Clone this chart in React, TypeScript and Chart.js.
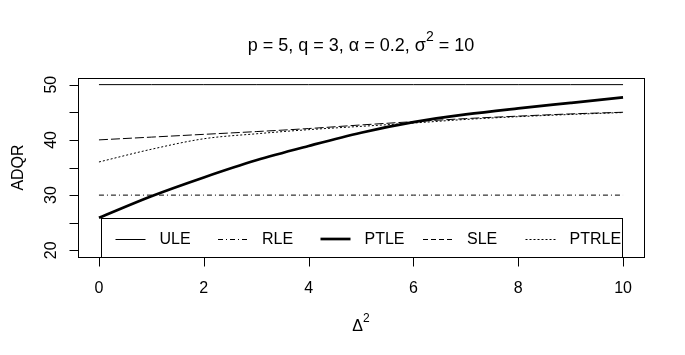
import React, { useEffect, useRef } from "react";
import { Chart, registerables } from "chart.js";

Chart.register(...registerables);

// ---- data ----
const deltas = [0, 1, 2, 3, 4, 5, 6, 7, 8, 9, 10];
const ule = [50, 50, 50, 50, 50, 50, 50, 50, 50, 50, 50];
const rle = [30, 30, 30, 30, 30, 30, 30, 30, 30, 30, 30];
const ptle = [25.9, 29.8, 33.2, 36.3, 38.9, 41.3, 43.2, 44.6, 45.7, 46.7, 47.7];
const sle = [40.0, 40.5, 41.0, 41.5, 42.05, 42.7, 43.3, 43.85, 44.3, 44.7, 45.0];
const ptrle = [36.0, 38.3, 40.2, 41.1, 41.85, 42.45, 43.05, 43.7, 44.2, 44.6, 44.95];

const xTicks = [0, 2, 4, 6, 8, 10];
const yTicks = [20, 25, 30, 35, 40, 45, 50];
const yLabels = [20, 30, 40, 50];
const seriesNames = ["ULE", "RLE", "PTLE", "SLE", "PTRLE"];

const FONT = '"Liberation Sans", Arial, sans-serif';
const INK = "#000";

type LegendStyle = { width: number; dash: number[] };
const legendStyles: LegendStyle[] = [
  { width: 1, dash: [] },
  { width: 1, dash: [5, 3, 1, 3] },
  { width: 2.7, dash: [] },
  { width: 1, dash: [5, 3] },
  { width: 1, dash: [2, 2] },
];

const toXY = (ys: number[]) => deltas.map((x, i) => ({ x, y: ys[i] }));

const rPlugin = {
  id: "rStyle",
  afterDatasetsDraw(chart: any) {
    const ctx: CanvasRenderingContext2D = chart.ctx;
    const { left, top, right, bottom } = chart.chartArea;
    const xs = chart.scales.x;
    const ys = chart.scales.y;
    ctx.save();
    ctx.strokeStyle = INK;
    ctx.fillStyle = INK;
    ctx.lineWidth = 1;
    ctx.setLineDash([]);

    const L = Math.round(left) + 0.5;
    const T = Math.round(top) + 0.5;
    const R = Math.round(right) + 0.5;
    const B = Math.round(bottom) + 0.5;

    // legend (bottom, centred, drawn over the lines)
    const legW = 521;
    const legH = 39;
    const cx = (left + right) / 2;
    const legL = Math.round(cx - legW / 2) + 0.5;
    const legT = Math.round(bottom - legH) + 0.5;
    ctx.fillStyle = "#fff";
    ctx.fillRect(legL, legT, legW, legH);
    ctx.fillStyle = INK;
    ctx.strokeRect(legL, legT, legW, legH);
    const ly = Math.round(legT + legH / 2 + 1);
    ctx.font = `16px ${FONT}`;
    ctx.textBaseline = "middle";
    ctx.textAlign = "left";
    seriesNames.forEach((name, i) => {
      const sx = legL + 14 + i * 102.5;
      const st = legendStyles[i];
      ctx.save();
      ctx.lineWidth = st.width;
      ctx.setLineDash(st.dash);
      ctx.beginPath();
      const yy = st.width === 1 ? ly + 0.5 : ly;
      ctx.moveTo(sx, yy);
      ctx.lineTo(sx + 30, yy);
      ctx.stroke();
      ctx.restore();
      ctx.fillText(name, sx + 44, ly + 1);
    });

    // plot box
    ctx.setLineDash([]);
    ctx.lineWidth = 1;
    ctx.strokeRect(L, T, R - L, B - T);

    // x axis
    const axY = Math.round(bottom) + 0.5;
    ctx.beginPath();
    xTicks.forEach((v) => {
      const px = Math.round(xs.getPixelForValue(v)) + 0.5;
      ctx.moveTo(px, axY);
      ctx.lineTo(px, axY + 9);
    });
    ctx.stroke();
    ctx.font = `16px ${FONT}`;
    ctx.textAlign = "center";
    ctx.textBaseline = "alphabetic";
    xTicks.forEach((v) => {
      const px = xs.getPixelForValue(v);
      ctx.fillText(String(v), px, 293);
    });

    // y axis
    const axX = Math.round(left) + 0.5;
    ctx.beginPath();
    yTicks.forEach((v) => {
      const py = Math.round(ys.getPixelForValue(v)) + 0.5;
      ctx.moveTo(axX, py);
      ctx.lineTo(axX - 9, py);
    });
    ctx.stroke();
    yLabels.forEach((v) => {
      const py = ys.getPixelForValue(v);
      ctx.save();
      ctx.translate(56, py);
      ctx.rotate(-Math.PI / 2);
      ctx.textAlign = "center";
      ctx.textBaseline = "alphabetic";
      ctx.fillText(String(v), 0, 0);
      ctx.restore();
    });

    // y title
    ctx.save();
    ctx.translate(23, (top + bottom) / 2);
    ctx.rotate(-Math.PI / 2);
    ctx.textAlign = "center";
    ctx.fillText("ADQR", 0, 0);
    ctx.restore();

    // math-like text with superscripts
    const drawMath = (parts: { t: string; sup?: boolean }[], centerX: number, baseY: number, size: number) => {
      const supSize = Math.round(size * 0.75);
      let total = 0;
      parts.forEach((p) => {
        ctx.font = `${p.sup ? supSize : size}px ${FONT}`;
        total += ctx.measureText(p.t).width;
      });
      let x = centerX - total / 2;
      ctx.textAlign = "left";
      parts.forEach((p) => {
        ctx.font = `${p.sup ? supSize : size}px ${FONT}`;
        ctx.fillText(p.t, x, p.sup ? baseY - size * 0.55 : baseY);
        x += ctx.measureText(p.t).width;
      });
    };
    drawMath([{ t: "Δ" }, { t: "2", sup: true }], cx, 331, 16);

    // main title
    drawMath(
      [
        { t: "p = 5, q = 3, α = 0.2, σ" },
        { t: "2", sup: true },
        { t: " = 10" },
      ],
      cx,
      51,
      18
    );

    ctx.restore();
  },
};

export default function App() {
  const ref = useRef<HTMLCanvasElement | null>(null);

  useEffect(() => {
    document.body.style.margin = "0";
    const canvas = ref.current;
    if (!canvas) return;
    const common = { pointRadius: 0, borderColor: INK, fill: false };
    const chart = new Chart(canvas, {
      type: "line",
      data: {
        datasets: [
          { ...common, label: seriesNames[0], data: toXY(ule), borderWidth: 1 },
          { ...common, label: seriesNames[1], data: toXY(rle), borderWidth: 1, borderDash: [5, 3, 1, 3] },
          { ...common, label: seriesNames[2], data: toXY(ptle), borderWidth: 2.7, cubicInterpolationMode: "monotone" },
          { ...common, label: seriesNames[3], data: toXY(sle), borderWidth: 1, borderDash: [9, 3], cubicInterpolationMode: "monotone" },
          { ...common, label: seriesNames[4], data: toXY(ptrle), borderWidth: 1, borderDash: [2, 2], cubicInterpolationMode: "monotone" },
        ],
      },
      options: {
        animation: false,
        responsive: false,
        maintainAspectRatio: false,
        devicePixelRatio: 1,
        layout: { padding: { left: 78, top: 78, right: 41, bottom: 98 } },
        plugins: { legend: { display: false }, tooltip: { enabled: false }, title: { display: false } },
        scales: {
          x: { type: "linear", min: -0.4, max: 10.4, display: false },
          y: { type: "linear", min: 18.8, max: 51.2, display: false },
        },
      },
      plugins: [rPlugin],
    });
    return () => chart.destroy();
  }, []);

  return (
    <div style={{ width: 685, height: 355, background: "#fff" }}>
      <canvas ref={ref} width={685} height={355} style={{ display: "block", width: 685, height: 355 }} />
    </div>
  );
}
